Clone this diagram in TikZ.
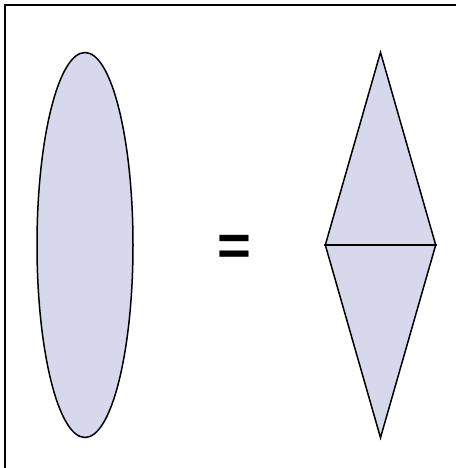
\documentclass[tikz,border=0pt]{standalone}
\usepackage{fontspec}
\setsansfont{Liberation Sans}
\usetikzlibrary{shapes.geometric}
\definecolor{L1}{RGB}{216,216,237}

\begin{document}
\begin{tikzpicture}[
  x=1pt, y=-1pt,
  shapebox/.style={draw=black, line width=1.5pt, fill=L1, inner sep=0pt},
  frameline/.style={draw=black, line width=2pt}
]
\useasboundingbox (0,0) rectangle (466,468);
\draw[frameline] (4,5) -- (456,5);
\draw[frameline] (5,5) -- (5,468);
\node[shapebox, ellipse, minimum width=96pt, minimum height=385pt] (lens) at (85,245) {};
\node[shapebox, diamond, minimum width=111pt, minimum height=386pt] (dia) at (380.5,245) {};
\draw[line width=1.5pt] (dia.west) -- (dia.east);
\node[font=\sffamily\bfseries\fontsize{58}{58}\selectfont, inner sep=0pt] (eq) at (234.5,250) {=};
\end{tikzpicture}
\end{document}
